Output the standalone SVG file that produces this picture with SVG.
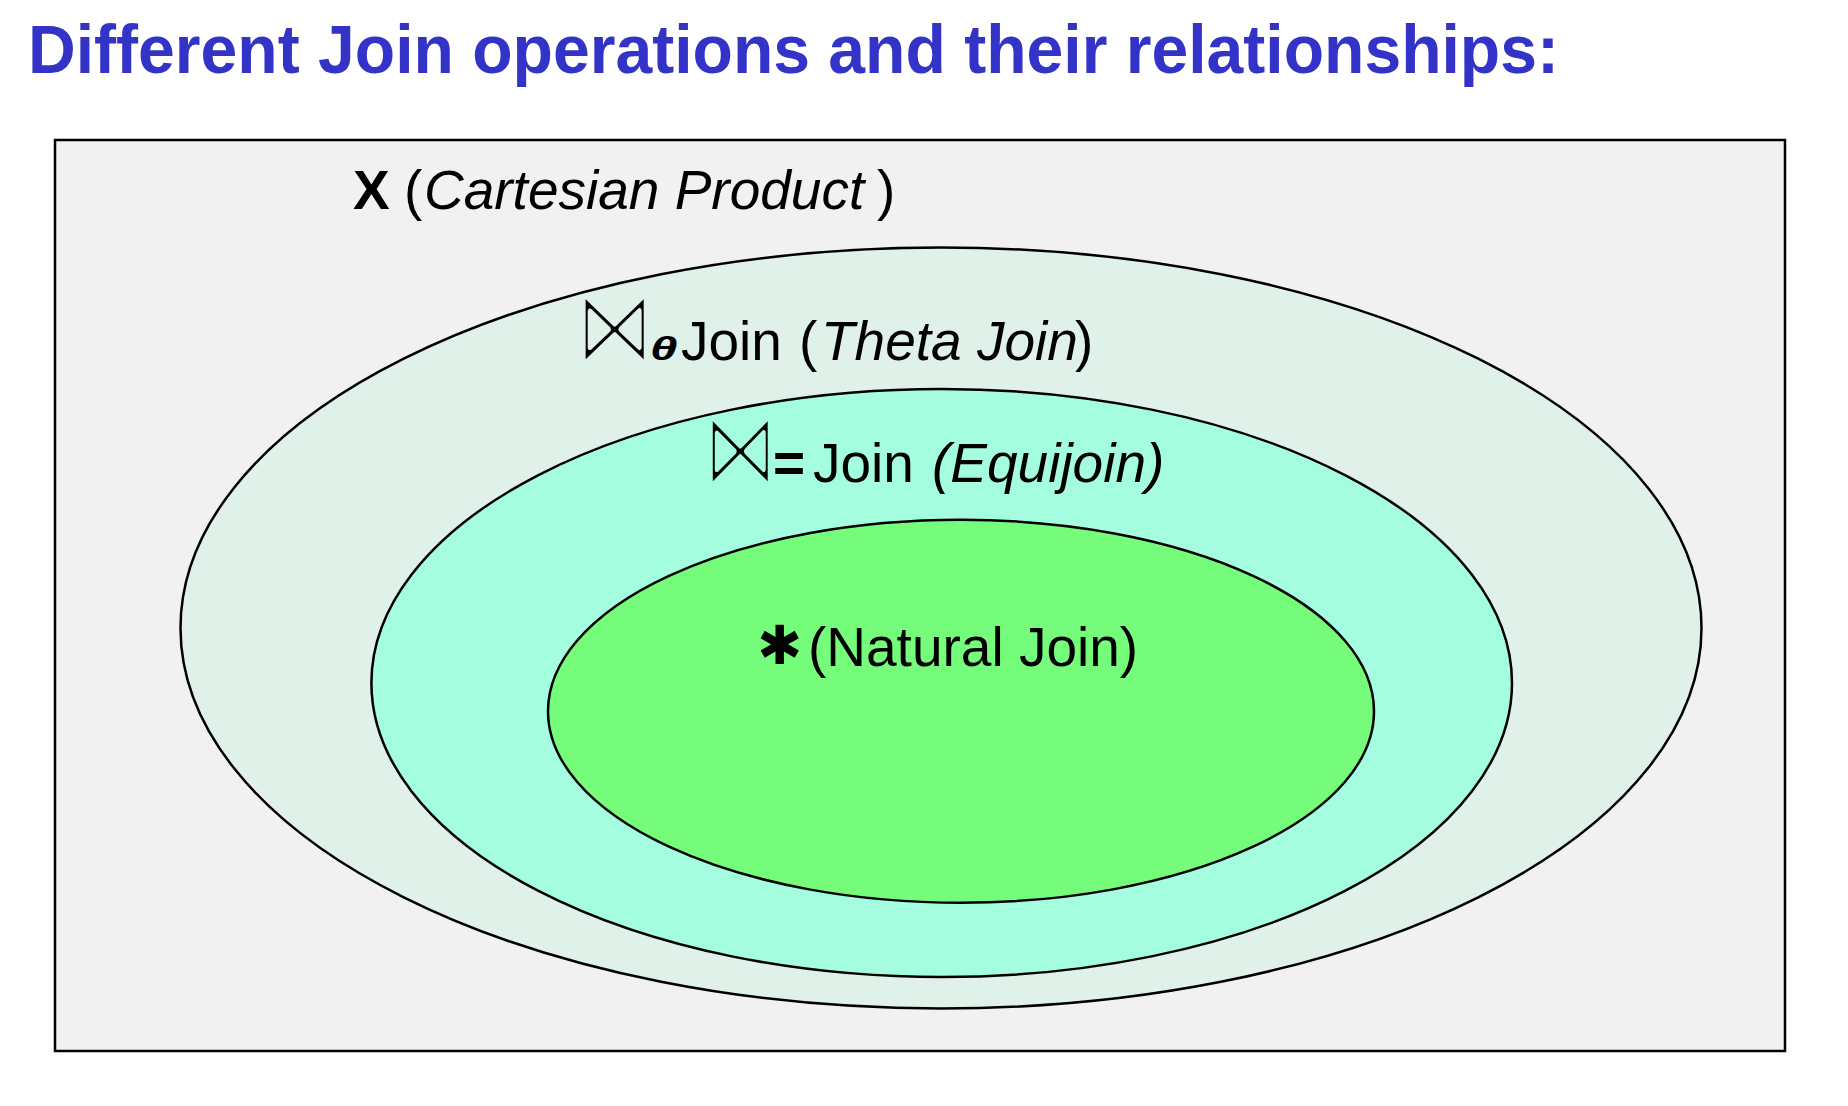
<svg xmlns="http://www.w3.org/2000/svg" width="1848" height="1106" viewBox="0 0 1848 1106">
<style>
.t{font-family:"Liberation Sans",Arial,sans-serif;fill:#000}
.i{font-style:italic}
.b{font-weight:bold}
.sym{font-family:"DejaVu Sans",sans-serif;fill:#000}
.bow{font-family:"DejaVu Sans",sans-serif;fill:#000;stroke-width:4;stroke-linejoin:round;paint-order:fill stroke}
.sh{stroke:#000;stroke-width:2.5}
</style>
<defs>
<clipPath id="c1"><rect x="579" y="297" width="68" height="69"/></clipPath>
<clipPath id="c2"><rect x="705" y="420" width="66" height="68"/></clipPath>
</defs>
<rect width="1848" height="1106" fill="#fff"/>
<text id="title" x="28" y="73" class="t b" font-size="68" style="fill:#3333C8" textLength="1531" lengthAdjust="spacingAndGlyphs">Different Join operations and their relationships:</text>
<g id="cartesian">
<rect x="55" y="140" width="1730" height="911" fill="#F1F1F1" class="sh"/>
<text class="t" font-size="55" y="209"><tspan x="353" class="b">X</tspan><tspan x="404">(</tspan><tspan x="424" class="i">Cartesian Product</tspan><tspan x="877">)</tspan></text>
</g>
<g id="theta">
<ellipse cx="941" cy="628" rx="760.5" ry="380.5" fill="#E0F1E9" class="sh"/>
<g clip-path="url(#c1)"><text class="bow" stroke="#E0F1E9" font-size="72" x="-7" y="0" transform="translate(582.6,362) scale(1.1,1.45)">⋈</text></g>
<text class="t b i" font-size="34" x="0" y="0" transform="translate(650,360) scale(1.45,1)">θ</text>
<text class="t" font-size="55" y="360"><tspan x="681">Join</tspan><tspan x="799">(</tspan><tspan x="821" class="i">Theta Join</tspan><tspan x="1075">)</tspan></text>
</g>
<g id="equi">
<ellipse cx="941.7" cy="683" rx="570.3" ry="294" fill="#A5FDE0" class="sh"/>
<g clip-path="url(#c2)"><text class="bow" stroke="#A5FDE0" font-size="72" x="-7" y="0" transform="translate(710,483.5) scale(1.04,1.45)">⋈</text></g>
<text class="t b" font-size="55" x="773" y="482">=</text>
<text class="t" font-size="55" y="482"><tspan x="813">Join</tspan><tspan x="932" class="i">(Equijoin)</tspan></text>
</g>
<g id="natural">
<ellipse cx="961" cy="711.3" rx="413" ry="191.5" fill="#74FC7A" class="sh"/>
<text class="sym" font-size="54" x="757" y="664">✱</text>
<text class="t" font-size="55" x="808" y="666">(Natural Join)</text>
</g>
</svg>
